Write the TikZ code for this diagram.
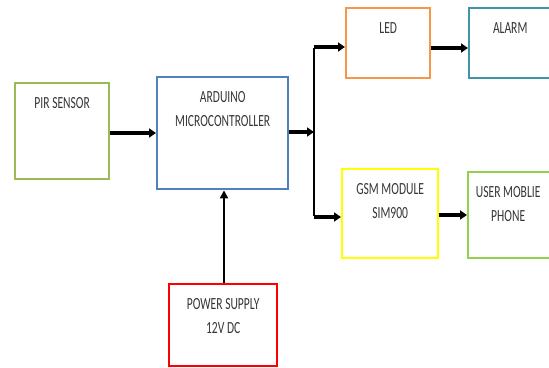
\documentclass[tikz,border=0pt]{standalone}
\usepackage{fontspec}
\setmainfont[FakeStretch=0.68]{Carlito}
\usetikzlibrary{arrows.meta}
\definecolor{cpir}{HTML}{9BBB59}
\definecolor{card}{HTML}{4F81BD}
\definecolor{cled}{HTML}{F79646}
\definecolor{calarm}{HTML}{3F94A8}
\definecolor{cgsm}{HTML}{FFFF00}
\definecolor{cuser}{HTML}{92D050}
\definecolor{cpow}{HTML}{FF0000}
\definecolor{ctext}{HTML}{363636}
\tikzset{
  blk/.style={draw=#1, line width=2.4pt, rectangle, inner sep=0pt, anchor=north west},
  txt/.style={text=ctext, font=\fontsize{17}{24}\selectfont, align=center, inner sep=0pt, anchor=north},
  arr/.style={line width=3.2pt, -{Triangle[length=7pt,width=9pt]}},
  thinarr/.style={line width=2.2pt, -{Triangle[length=8pt,width=8pt]}},
  wire/.style={line width=2pt}
}
\begin{document}
\begin{tikzpicture}[x=1pt,y=-1pt]
\clip (0,0) rectangle (549,367);
\fill[white] (0,0) rectangle (549,367);
% boxes
\node[blk=cpir, minimum width=94pt, minimum height=96pt] (pir) at (14,82) {};
\node[blk=card, minimum width=131pt, minimum height=112pt] (ard) at (156,76) {};
\node[blk=cled, minimum width=84pt, minimum height=70pt] (led) at (345,7) {};
\node[blk=calarm, minimum width=100pt, minimum height=70pt] (alarm) at (468,7) {};
\node[blk=cgsm, minimum width=96pt, minimum height=89pt] (gsm) at (341,168) {};
\node[blk=cuser, minimum width=100pt, minimum height=86pt] (user) at (467,171) {};
\node[blk=cpow, minimum width=108pt, minimum height=82pt] (pow) at (168,283) {};
% texts
\node[txt] (pirt) at ([yshift=-15.5pt]pir.north) {PIR SENSOR};
\node[txt] (ardt) at ([yshift=-15.5pt]ard.north) {ARDUINO\\MICROCONTROLLER};
\node[txt] (ledt) at ([yshift=-15.5pt]led.north) {LED};
\node[txt] (alarmt) at ([yshift=-15.5pt,xshift=-9pt]alarm.north) {ALARM};
\node[txt] (gsmt) at ([yshift=-15.5pt]gsm.north) {GSM MODULE\\SIM900};
\node[txt] (usert) at ([yshift=-15.5pt,xshift=-10pt]user.north) {USER MOBLIE\\PHONE};
\node[txt] (powt) at ([yshift=-15.5pt]pow.north) {POWER SUPPLY\\12V DC};
% junction coordinates
\coordinate (jm) at (314,132);
\coordinate (jt) at (314,47);
\coordinate (jb) at (314,217);
% connectors
\draw[arr] (pir.east |- 0,133) -- (ard.west |- 0,133);
\draw[arr] (ard.east |- jm) -- (jm);
\draw[wire] ([yshift=-1pt]jt) -- ([yshift=1pt]jb);
\draw[arr] (jt) -- (led.west |- jt);
\draw[arr] (jb) -- (gsm.west |- jb);
\draw[arr] (led.east |- 0,48) -- (alarm.west |- 0,48);
\draw[arr] (gsm.east |- 0,215) -- (user.west |- 0,215);
\draw[thinarr] (pow.north -| 224,0) -- (ard.south -| 224,0);
\end{tikzpicture}
\end{document}
